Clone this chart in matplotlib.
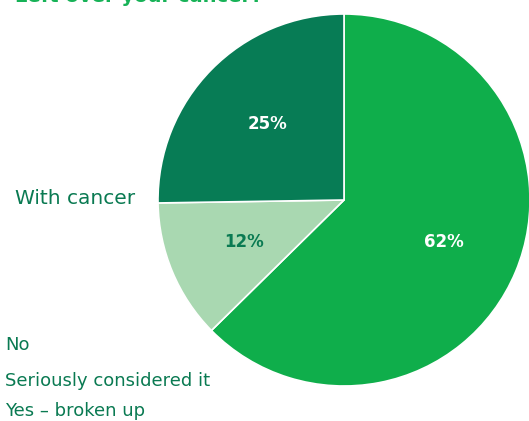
import matplotlib
matplotlib.use("Agg")
import matplotlib.pyplot as plt

CATEGORIES = ["Yes – broken up", "Seriously considered it", "No"]
VALUES = [62, 12, 25]
GROUP = "With cancer"
TITLE = "Left over your cancer?"

COLORS = ["#0FAE4B", "#A9D8B1", "#077C55"]
PCT_COLORS = ["white", "#0A7A52", "white"]
TEXT_GREEN = "#0A7A52"
FONT = "DejaVu Sans"

W, H = 529, 421


def main():
    fig = plt.figure(figsize=(W / 100, H / 100), dpi=100)
    ax = fig.add_axes([0, 0, 1, 1])

    total = sum(VALUES)
    wedges, _, pcts = ax.pie(
        VALUES,
        colors=COLORS,
        startangle=90,
        counterclock=False,
        center=(344, H - 200),
        radius=186,
        autopct=lambda p: f"{p * total / 100:.0f}%",
        pctdistance=0.58,
        wedgeprops=dict(edgecolor="white", linewidth=1.2),
        textprops=dict(fontsize=12, fontweight="bold", family=FONT),
    )
    for t, c in zip(pcts, PCT_COLORS):
        t.set_color(c)

    ax.set_xlim(0, W)
    ax.set_ylim(0, H)
    ax.set_aspect("equal")
    ax.axis("off")

    # title sits mostly above the top edge
    ax.text(15, H - 2, TITLE, fontsize=14, fontweight="bold", color="#17B257",
            family=FONT, va="baseline", ha="left")

    ax.text(15, H - 199, GROUP, fontsize=14.5, color=TEXT_GREEN, family=FONT,
            va="center", ha="left")

    # legend entries listed bottom-up
    for label, y in zip(CATEGORIES, [411, 381, 345]):
        ax.text(5, H - y, label, fontsize=13, color=TEXT_GREEN, family=FONT,
                va="center", ha="left")

    fig.savefig("out.png", dpi=100)


if __name__ == "__main__":
    main()
